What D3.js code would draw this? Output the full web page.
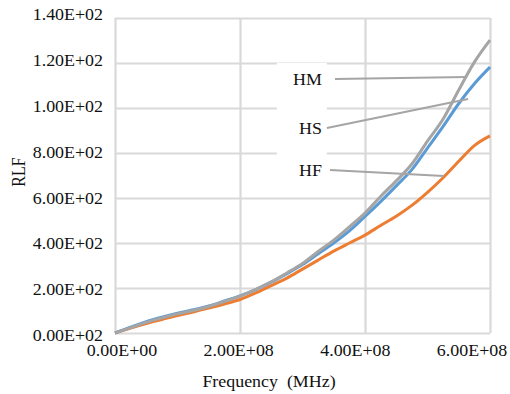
<!DOCTYPE html>
<html>
<head>
<meta charset="utf-8">
<script src="https://cdn.jsdelivr.net/npm/d3@7"></script>
<style>
  body { margin: 0; background: #fff; }
  text { font-family: "Liberation Serif", "Times New Roman", serif; fill: #111; }
</style>
</head>
<body>
<svg id="chart" width="510" height="394"></svg>
<script>
// frequency in Hz, every 25 MHz
const freq = [0, 2.5e7, 5e7, 7.5e7, 1e8, 1.25e8, 1.5e8, 1.75e8, 2e8, 2.25e8, 2.5e8, 2.75e8,
              3e8, 3.25e8, 3.5e8, 3.75e8, 4e8, 4.25e8, 4.5e8, 4.75e8, 5e8, 5.25e8, 5.5e8, 5.75e8, 6e8];
const hm = [0, 2.4, 4.7, 6.7, 8.5, 10.0, 11.8, 14.0, 16.4, 19.3, 22.7, 26.7,
            30.9, 36.2, 41.3, 47.2, 53.3, 60.7, 67.6, 75.1, 85.3, 95.1, 108.0, 120.4, 130.2];
const hs = [0, 2.6, 5.0, 7.0, 8.8, 10.3, 12.0, 14.2, 16.5, 19.3, 22.6, 26.4,
            30.4, 35.2, 40.0, 45.4, 51.8, 58.4, 65.4, 72.6, 82.2, 91.8, 102.0, 110.8, 118.2];
const hf = [0, 2.2, 4.2, 6.0, 7.8, 9.3, 11.1, 12.9, 14.9, 17.8, 21.1, 24.4,
            28.4, 32.4, 36.4, 40.0, 43.5, 47.8, 51.9, 56.7, 62.5, 69.0, 76.3, 83.3, 87.6];

const xTicks = [0, 2e8, 4e8, 6e8];
const xTickLabels = ["0.00E+00", "2.00E+08", "4.00E+08", "6.00E+08"];
const yTicks = [0, 20, 40, 60, 80, 100, 120, 140];
const yTickLabels = ["0.00E+02", "2.00E+02", "4.00E+02", "6.00E+02", "8.00E+02", "1.00E+02", "1.20E+02", "1.40E+02"];

// data labels: text, where the text sits, where the leader points to
const labelNames = ["HM", "HS", "HF"];
const labelFrom = [[3.52e8, 112.9], [3.39e8, 91.1], [3.44e8, 72.4]];
const labelTo = [[5.63e8, 113.8], [5.65e8, 104.0], [5.26e8, 69.8]];

const svg = d3.select("#chart");
const sx = 1.12; // the source text is a little stretched sideways
const serif = '"Liberation Serif", "Times New Roman", serif';

const x = d3.scaleLinear().domain([0, 6e8]).range([115, 490]);
const y = d3.scaleLinear().domain([0, 140]).range([333, 18]);
// tick labels don't sit exactly under the grid in the original
const xLab = d3.scaleLinear().domain([0, 6e8]).range([121.5, 471.5]);
const yLab = d3.scaleLinear().domain([0, 140]).range([335, 14]);

// grid
svg.append("g")
  .attr("transform", "translate(115,0)")
  .call(d3.axisLeft(y).tickValues(yTicks).tickSize(-(x.range()[1] - x.range()[0])).tickFormat(""))
  .call(g => g.select(".domain").remove())
  .selectAll("line").attr("stroke", "#d9d9d9").attr("stroke-width", 2.2);

svg.append("g")
  .attr("transform", "translate(0,333)")
  .call(d3.axisBottom(x).tickValues(xTicks).tickSize(-(y.range()[0] - y.range()[1])).tickFormat(""))
  .call(g => g.select(".domain").remove())
  .selectAll("line").attr("stroke", "#d9d9d9").attr("stroke-width", 2.2);

// tick labels
svg.append("g")
  .attr("transform", "translate(103,0)")
  .call(d3.axisLeft(yLab).tickValues(yTicks).tickSize(0).tickPadding(0).tickFormat((d, i) => yTickLabels[i]))
  .call(g => g.select(".domain").remove())
  .attr("font-size", null).attr("font-family", null)
  .selectAll("text")
  .attr("x", 0).attr("dy", "0.35em")
  .style("font-family", serif)
  .style("font-size", "16px")
  .attr("transform", `scale(${sx},1)`);

svg.append("g")
  .attr("transform", "translate(0,350)")
  .call(d3.axisBottom(xLab).tickValues(xTicks).tickSize(0).tickPadding(0).tickFormat((d, i) => xTickLabels[i]))
  .call(g => g.select(".domain").remove())
  .attr("font-size", null).attr("font-family", null)
  .selectAll("text")
  .attr("y", 0).attr("dy", "0.35em")
  .style("font-family", serif)
  .style("font-size", "16px")
  .attr("transform", `scale(${sx},1)`);

// axis titles
svg.append("text")
  .attr("transform", `translate(269,381) scale(${sx},1)`)
  .attr("text-anchor", "middle")
  .attr("dy", "0.35em")
  .style("font-size", "16px")
  .style("white-space", "pre")
  .text("Frequency  (MHz)");

svg.append("text")
  .attr("transform", `translate(19,172) scale(${sx},1) rotate(-90)`)
  .attr("text-anchor", "middle")
  .attr("dy", "0.35em")
  .style("font-size", "16px")
  .text("RLF");

// white box behind data labels
svg.append("rect")
  .attr("x", x(2.59e8)).attr("y", y(120))
  .attr("width", x(3.39e8) - x(2.59e8))
  .attr("height", y(63.6) - y(120))
  .attr("fill", "#fff");

// series
const line = d3.line()
  .x((d, i) => x(freq[i]))
  .y(d => y(d))
  .curve(d3.curveMonotoneX);

const series = [
  { name: "HF", values: hf, color: "#ed7d31" },
  { name: "HS", values: hs, color: "#5b9bd5" },
  { name: "HM", values: hm, color: "#a5a5a5" }
];

svg.append("g")
  .selectAll("path")
  .data(series)
  .join("path")
  .attr("d", d => line(d.values))
  .attr("fill", "none")
  .attr("stroke", d => d.color)
  .attr("stroke-width", 3)
  .attr("stroke-linejoin", "round");

// leader lines + labels
svg.append("g")
  .selectAll("line")
  .data(labelNames)
  .join("line")
  .attr("x1", (d, i) => x(labelFrom[i][0]))
  .attr("y1", (d, i) => y(labelFrom[i][1]))
  .attr("x2", (d, i) => x(labelTo[i][0]))
  .attr("y2", (d, i) => y(labelTo[i][1]))
  .attr("stroke", "#a5a5a5")
  .attr("stroke-width", 2);

svg.append("g")
  .selectAll("text")
  .data(labelNames)
  .join("text")
  .attr("transform", (d, i) => `translate(${x(3.31e8)},${y(labelFrom[i][1])}) scale(${sx},1)`)
  .attr("text-anchor", "end")
  .attr("dy", "0.35em")
  .style("font-size", "16px")
  .text(d => d);
</script>
</body>
</html>
